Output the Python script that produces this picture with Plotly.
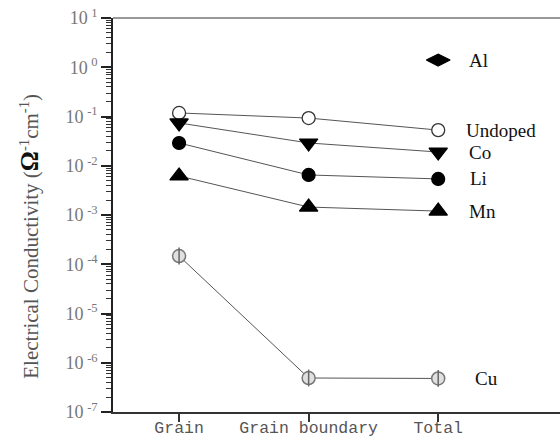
import math
import plotly.graph_objects as go

# Conductivity components for each doped sample (S/cm)
stages = ["Grain", "Grain boundary", "Total"]
undoped = [0.118, 0.093, 0.053]
co = [0.074, 0.029, 0.019]
li = [0.029, 0.0065, 0.0054]
mn = [0.0062, 0.00145, 0.0012]
al = [None, None, 1.4]
cu = [1.47e-4, 4.9e-7, 4.8e-7]

series_names = ["Al", "Undoped", "Co", "Li", "Mn", "Cu"]
series_values = [al, undoped, co, li, mn, cu]

xpos = list(range(len(stages)))
serif = "Liberation Serif, Times New Roman, serif"
line_col = "#555555"

fig = go.Figure()

def add_series(vals, symbol, size, fill, edge, edge_w=1.2):
    fig.add_trace(go.Scatter(
        x=xpos, y=vals, mode="lines+markers",
        line=dict(color=line_col, width=1),
        marker=dict(symbol=symbol, size=size, color=fill,
                    line=dict(color=edge, width=edge_w)),
        showlegend=False, hoverinfo="skip", cliponaxis=False,
    ))

add_series(undoped, "circle", 13, "white", "#333333", 1.3)
add_series(co, "triangle-down", 16, "black", "black")
add_series(li, "circle", 13, "black", "black")
add_series(mn, "triangle-up", 16, "black", "black")
add_series(al, "diamond-wide", 17, "black", "black")
add_series(cu, "circle", 13, "#e0e0e0", "#777777", 1.5)
# vertical bar through the Cu markers
fig.add_trace(go.Scatter(
    x=xpos, y=cu, mode="markers",
    marker=dict(symbol="line-ns", size=12, line=dict(color="#666666", width=1.5)),
    showlegend=False, hoverinfo="skip", cliponaxis=False,
))

# series names beside the last point of each line
label_shift = {"Al": 29, "Undoped": 26, "Co": 29, "Li": 30, "Mn": 29, "Cu": 35}
for name, vals in zip(series_names, series_values):
    fig.add_annotation(
        x=xpos[-1], y=math.log10(vals[-1]), xref="x", yref="y",
        text=name, showarrow=False, xanchor="left", yanchor="middle",
        xshift=label_shift[name],
        font=dict(family=serif, size=19, color="#111111"),
    )

# decade ticks and minor ticks on the log axis
decades = list(range(-7, 2))
tick_text = ["10\u2009<sup>%d</sup>" % d for d in decades]
minor_vals = [m * 10 ** d for d in range(-7, 1) for m in range(2, 10)]

fig.update_layout(
    width=560, height=445,
    margin=dict(l=113, r=0, t=18, b=33),
    paper_bgcolor="white", plot_bgcolor="white",
    xaxis=dict(
        range=[-0.51, 2.94], tickvals=xpos, ticktext=stages,
        showgrid=False, zeroline=False, showline=True,
        linecolor="#333333", linewidth=1.5,
        ticks="outside", ticklen=8, tickwidth=1.5, tickcolor="#333333",
        ticklabelstandoff=-9,
        tickfont=dict(family="Liberation Mono, Courier New, monospace",
                      size=16.5, color="#555555"),
    ),
    yaxis=dict(
        type="log", range=[-7, 1],
        tickvals=[10 ** d for d in decades], ticktext=tick_text,
        showgrid=False, zeroline=False, showline=True,
        linecolor="#222222", linewidth=1.5,
        ticks="outside", ticklen=10, tickwidth=1.5, tickcolor="#222222",
        ticklabelstandoff=0,
        tickfont=dict(family=serif, size=18, color="#777777"),
        minor=dict(tickvals=minor_vals, ticks="outside", ticklen=5,
                   tickwidth=1, tickcolor="#333333", showgrid=False),
    ),
    shapes=[dict(type="line", xref="paper", yref="paper",
                 x0=0, x1=1, y0=1, y1=1,
                 line=dict(color="#777777", width=1.5))],
)

fig.add_annotation(
    xref="paper", yref="paper", x=-0.186, y=0.447,
    text=("Electrical Conductivity "
          "(<span style='font-size:25px;color:#111111'><b>Ω</b></span>"
          "<sup>-1</sup>cm<sup>-1</sup>)"),
    textangle=-90, showarrow=False, xanchor="center", yanchor="middle",
    font=dict(family=serif, size=21, color="#555555"),
)

fig.write_html("out.html")
